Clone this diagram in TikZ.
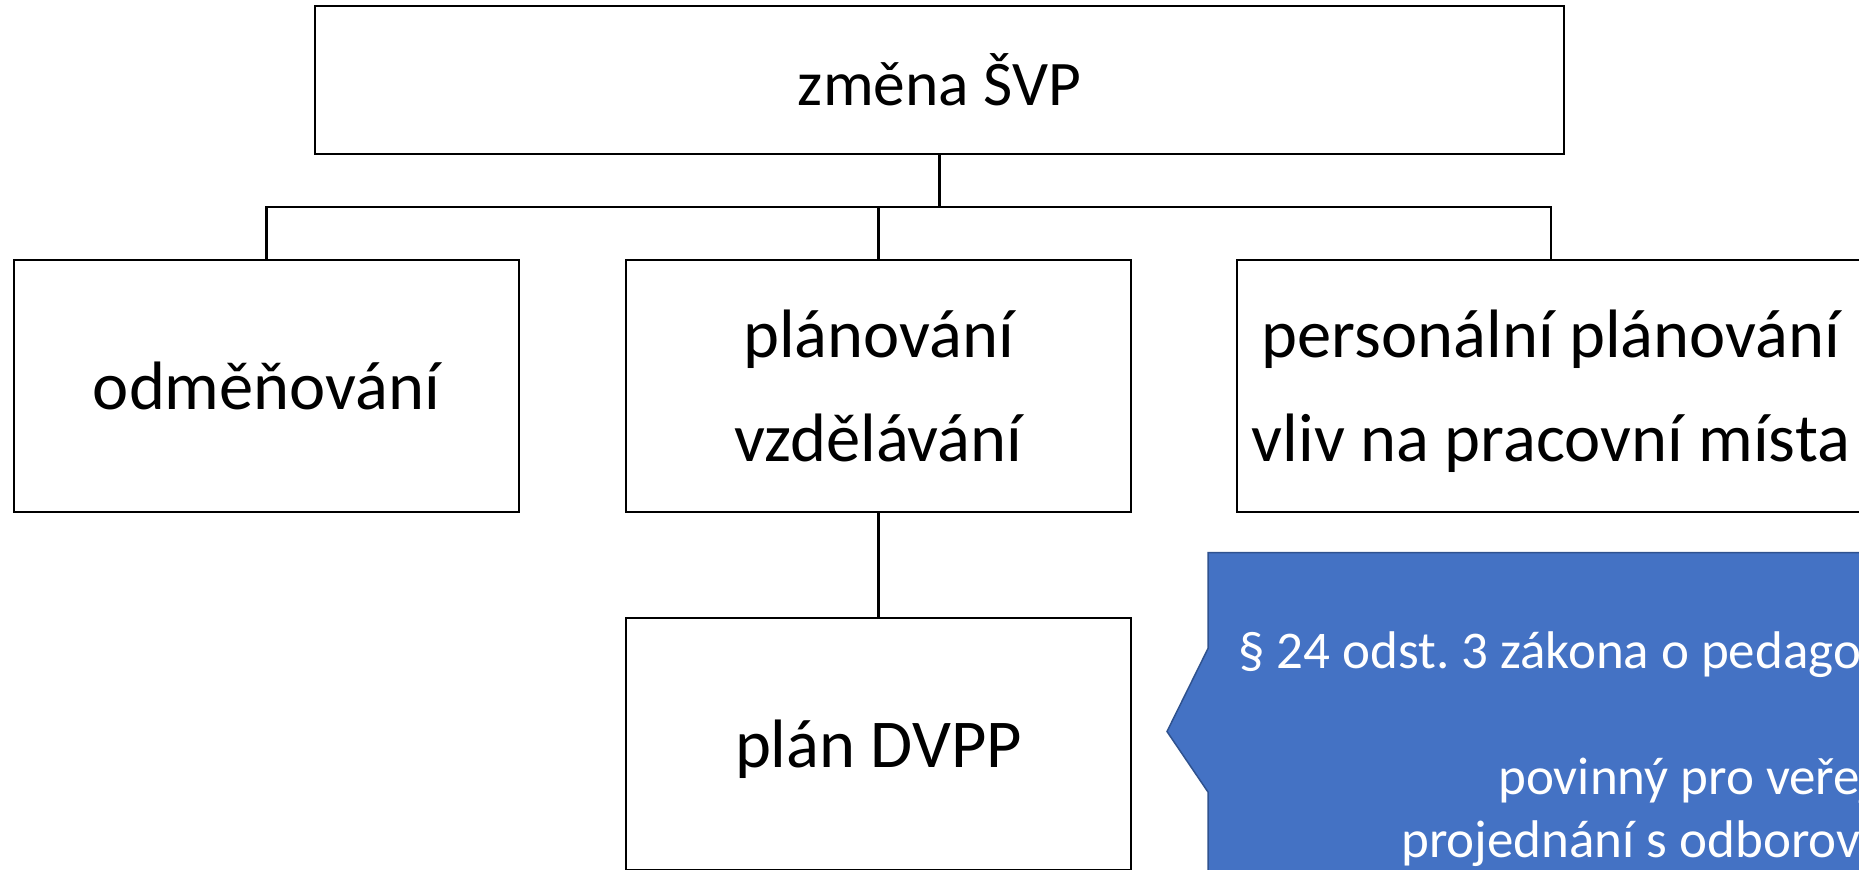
\documentclass[tikz,border=0pt]{standalone}
\usepackage{fontspec}
\setmainfont{Carlito}
\frenchspacing
\definecolor{callfill}{HTML}{4472C4}
\definecolor{callline}{HTML}{2F528F}
\begin{document}
\begin{tikzpicture}[x=0.5pt,y=-0.5pt,
  box/.style={draw=black, line width=1.25pt, fill=white, inner sep=0pt, align=center,
    text depth=0pt, font=\fontsize{34.25pt}{52pt}\selectfont,
    minimum width=252.5pt, minimum height=126pt},
  link/.style={draw=black, line width=1.1pt},
  calltext/.style={text=white, inner sep=0pt, anchor=base west,
    font=\fontsize{26.5pt}{31.5pt}\selectfont}]
\useasboundingbox (0,0) rectangle (1859,869);
\clip (0,0) rectangle (1859,869);
\node[box, minimum width=624.5pt, minimum height=74pt, font=\fontsize{31.75pt}{38pt}\selectfont] (top) at (939.5,80) {změna ŠVP};
\node[box] (odm) at (266.5,386) {odměňování};
\node[box] (plv) at (878.5,386) {plánování\\vzdělávání};
\node[box, minimum width=314pt] (pers) at (1551,386) {personální plánování\\vliv na pracovní místa};
\node[box] (dvpp) at (878.5,744) {plán DVPP};
\coordinate (bus) at (939.5,207);
\draw[link] (top.south) -- (bus);
\draw[link] (bus) -| (odm.north);
\draw[link] (bus) -| (plv.north);
\draw[link] (bus) -| (pers.north);
\draw[link] (plv.south) -- (dvpp.north);
\draw[fill=callfill, draw=callline, line width=0.75pt]
  (1208,552.5) -- (1880,552.5) -- (1880,890) -- (1208,890) -- (1208,792)
  -- (1167,731.5) -- (1208,648.5) -- cycle;
\node[calltext] (c1) at (1238,668) {§ 24 odst. 3 zákona o pedagogických};
\node[calltext] (c2) at (1498,794) {povinný pro veřejné};
\node[calltext] (c3) at (1401,857) {projednání s odborovou};
\end{tikzpicture}
\end{document}
